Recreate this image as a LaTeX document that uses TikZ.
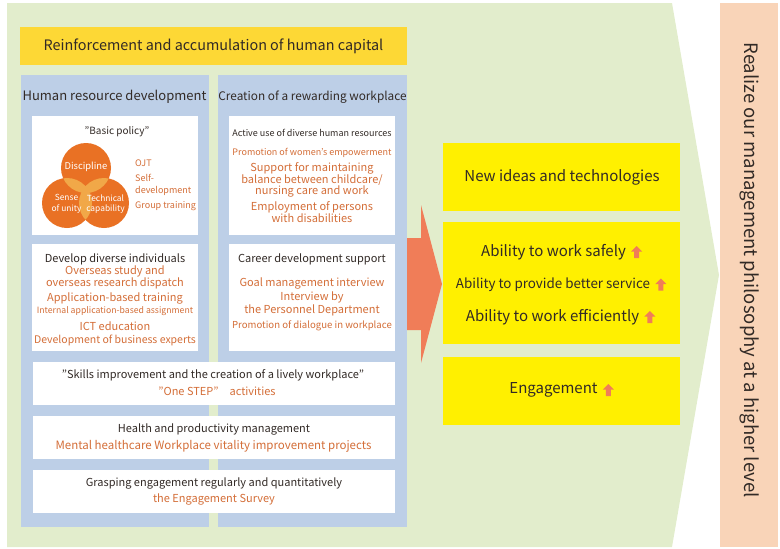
\documentclass[tikz,border=0pt]{standalone}
\usepackage{fontspec}
\setmainfont{Noto Sans CJK JP}

\definecolor{bggreen}{RGB}{226,237,204}
\definecolor{capyellow}{RGB}{253,216,53}
\definecolor{panelblue}{RGB}{189,207,231}
\definecolor{txtorange}{RGB}{212,110,56}
\definecolor{venn}{RGB}{233,113,36}
\definecolor{vennlight}{RGB}{241,168,72}
\definecolor{arroworange}{RGB}{240,125,88}
\definecolor{resyellow}{RGB}{255,240,0}
\definecolor{goalpeach}{RGB}{249,212,184}
\definecolor{txtdark}{RGB}{50,42,38}

\tikzset{
  card/.style={fill=white,inner sep=0pt},
  panel/.style={fill=panelblue,inner sep=0pt,minimum height=452pt},
  result/.style={fill=resyellow,inner sep=0pt,minimum width=237pt},
  head/.style={text=txtdark,font=\fontsize{13}{14}\selectfont,inner sep=0pt},
  dark/.style={text=txtdark,font=\fontsize{11}{12}\selectfont,inner sep=0pt},
  hi/.style={text=txtorange,font=\fontsize{11}{11.2}\selectfont,inner sep=0pt,align=center},
  vtext/.style={text=white,font=\fontsize{8.4}{10.5}\selectfont,inner sep=0pt,align=center},
  big/.style={text=txtdark,font=\fontsize{15}{16}\selectfont,inner sep=0pt},
  uparr/.pic={\fill[arroworange] (0,-6) -- (5.5,-0.5) -- (2.5,-0.5) -- (2.5,6)
    -- (-2.5,6) -- (-2.5,-0.5) -- (-5.5,-0.5) -- cycle;}
}

\begin{document}
\begin{tikzpicture}[x=1pt,y=-1pt]
\useasboundingbox (0,0) rectangle (780,549);
\fill[bggreen] (7,3) -- (672,3) -- (719,275) -- (672,547) -- (7,547) -- cycle;
\node[fill=goalpeach,minimum width=544pt,minimum height=58pt,rotate=-90] (goal) at (749,275) {};
\node[rotate=-90,text=txtdark,font=\fontsize{18.5}{20}\selectfont,inner sep=0pt] (goalt) at (750,270)
  {Realize our management philosophy at a higher level};

\node[fill=capyellow,minimum width=387pt,minimum height=38pt,text=txtdark,
  font=\fontsize{14.4}{16}\selectfont] (capital) at (213.5,46)
  {Reinforcement and accumulation of human capital};

\node[panel,minimum width=188pt] (hrd) at (115,301) {};
\node[panel,minimum width=189pt] (work) at (312.5,301) {};
\node[head] (hrdt) at (114.5,97) {Human resource development};
\node[head,font=\fontsize{11.8}{14}\selectfont] (workt) at (312.5,97) {Creation of a rewarding workplace};

\node[card,minimum width=166pt,minimum height=119pt] (basic) at (115,175.5) {};
\node[card,minimum width=166pt,minimum height=119pt] (active) at (312,175.5) {};
\node[card,minimum width=166pt,minimum height=107pt] (develop) at (115,297.5) {};
\node[card,minimum width=166pt,minimum height=107pt] (career) at (312,297.5) {};
\node[card,minimum width=362pt,minimum height=43pt] (skills) at (214,383.5) {};
\node[card,minimum width=362pt,minimum height=43pt] (health) at (214,437.5) {};
\node[card,minimum width=362pt,minimum height=43pt] (survey) at (214,491.5) {};

% basic policy
\node[dark,font=\fontsize{10}{11}\selectfont] (policy) at (117,132) {"Basic policy"};
\fill[venn] (86,168) circle (25) (67,203) circle (25) (104,203) circle (25);
\begin{scope}
  \clip (86,168) circle (25);
  \fill[vennlight] (67,203) circle (25) (104,203) circle (25);
\end{scope}
\begin{scope}
  \clip (67,203) circle (25);
  \fill[vennlight] (104,203) circle (25);
\end{scope}
\node[vtext,font=\fontsize{9.4}{10}\selectfont] (disc) at (86,167) {Discipline};
\node[vtext] (unity) at (66.5,204) {Sense\\of unity};
\node[vtext] (tech) at (105.5,204) {Technical\\capability};
\node[hi,font=\fontsize{9}{12}\selectfont,anchor=west,align=left] (ojt) at (135,163) {OJT};
\node[hi,font=\fontsize{9}{12}\selectfont,anchor=west,align=left] (self) at (135,185) {Self-\\development};
\node[hi,font=\fontsize{9}{12}\selectfont,anchor=west,align=left] (group) at (135,206) {Group training};

% diverse human resources
\node[dark,font=\fontsize{9}{10}\selectfont] (activet) at (312,133) {Active use of diverse human resources};
\node[hi,font=\fontsize{9}{10}\selectfont] (women) at (312,153) {Promotion of women's empowerment};
\node[hi,font=\fontsize{11}{11.6}\selectfont] (balance) at (312,180) {Support for maintaining\\balance between childcare/\\nursing care and work};
\node[hi,font=\fontsize{11}{10.8}\selectfont] (disab) at (312,212) {Employment of persons\\with disabilities};

% diverse individuals
\node[dark] (devt) at (115,259) {Develop diverse individuals};
\node[hi] (abroad) at (115,277.5) {Overseas study and\\overseas research dispatch};
\node[hi] (appl) at (115,298) {Application-based training};
\node[hi,font=\fontsize{8.7}{9}\selectfont] (intern) at (115,311.5) {Internal application-based assignment};
\node[hi] (ict) at (115,326) {ICT education};
\node[hi,font=\fontsize{10.5}{11}\selectfont] (expert) at (115,340) {Development of business experts};

% career
\node[dark] (cart) at (312,259) {Career development support};
\node[hi] (goalmg) at (312,283) {Goal management interview};
\node[hi] (person) at (312,304) {Interview by\\the Personnel Department};
\node[hi,font=\fontsize{9.6}{10}\selectfont] (dialog) at (312,326) {Promotion of dialogue in workplace};

% wide rows
\node[dark] (skillt) at (213,375) {"Skills improvement and the creation of a lively workplace"};
\node[hi] (onestep) at (217,391) {"One STEP"\quad activities};
\node[dark] (healtht) at (214,429) {Health and productivity management};
\node[hi,font=\fontsize{11.5}{12}\selectfont] (mental) at (213.5,446) {Mental healthcare Workplace vitality improvement projects};
\node[dark] (survt) at (214,483) {Grasping engagement regularly and quantitatively};
\node[hi] (engs) at (214,499) {the Engagement Survey};

% big arrow
\fill[arroworange] (407,238) -- (421,238) -- (421,205) -- (442,284) -- (421,363)
  -- (421,330) -- (407,330) -- cycle;

% results
\node[result,minimum height=68pt] (ideas) at (561.5,177) {};
\node[result,minimum height=122pt] (ability) at (561.5,283) {};
\node[result,minimum height=68pt] (engage) at (561.5,391) {};
\node[big] (ideast) at (562,177) {New ideas and technologies};
\node[big] (safe) at (553.5,252) {Ability to work safely};
\node[big,font=\fontsize{13.4}{16}\selectfont] (serv) at (553,284.5) {Ability to provide better service};
\node[big] (eff) at (552.5,317) {Ability to work efficiently};
\node[big] (enga) at (553.5,390) {Engagement};
\foreach \n in {safe,serv,eff,enga}
  \pic at ([xshift=10.5pt]\n.east) {uparr};
\end{tikzpicture}
\end{document}
